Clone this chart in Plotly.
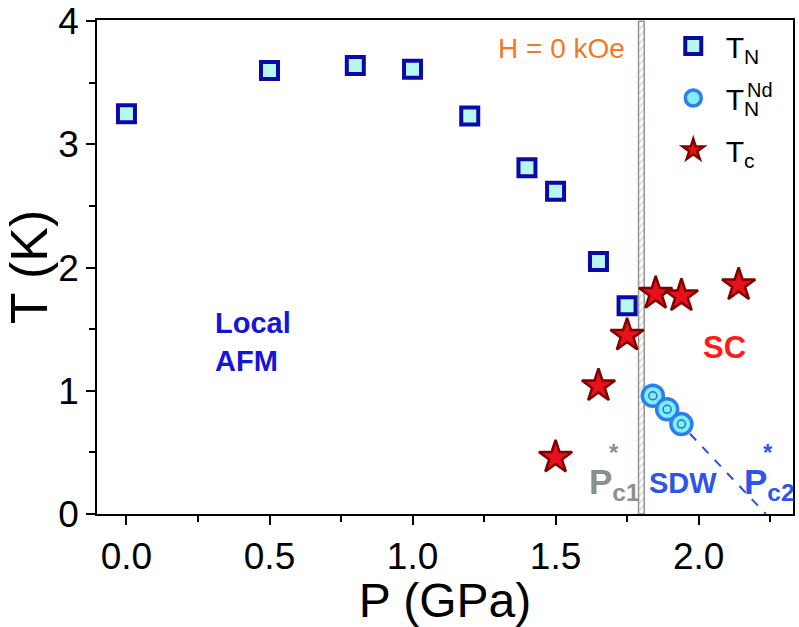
import plotly.graph_objects as go

# ---- data ----
tn_P = [0.0, 0.5, 0.8, 1.0, 1.2, 1.4, 1.5, 1.65, 1.75]
tn_T = [3.25, 3.60, 3.64, 3.61, 3.23, 2.81, 2.62, 2.05, 1.69]

tnd_P = [1.84, 1.89, 1.94]
tnd_T = [0.96, 0.85, 0.73]

tc_P = [1.5, 1.65, 1.75, 1.85, 1.94, 2.14]
tc_T = [0.46, 1.04, 1.45, 1.79, 1.77, 1.86]

sdw_line_P = [1.84, 2.235]
sdw_line_T = [0.97, 0.0]

pc1_P = [1.80]
pc1_width = [0.02]
band_top = [4.0]

x_ticks = [0.0, 0.5, 1.0, 1.5, 2.0]
x_ticklabels = ["0.0", "0.5", "1.0", "1.5", "2.0"]
y_ticks = [0, 1, 2, 3, 4]
y_ticklabels = ["0", "1", "2", "3", "4"]

FONT = "Liberation Sans"
BLUE_TXT = "#2f55e8"

fig = go.Figure()

# hatched P*c1 band
fig.add_trace(go.Bar(
    x=pc1_P, y=band_top, width=pc1_width, base=0,
    marker=dict(color="white", line=dict(color="#8f9790", width=1.5),
                pattern=dict(shape="/", fgcolor="#b3bbae", bgcolor="white",
                             size=5, solidity=0.35)),
    showlegend=False, hoverinfo="skip"))

# dashed SDW line
fig.add_trace(go.Scatter(
    x=sdw_line_P, y=sdw_line_T, mode="lines",
    line=dict(color="#2a4fd0", width=2, dash="dash"),
    showlegend=False, hoverinfo="skip"))

fig.add_trace(go.Scatter(
    x=tn_P, y=tn_T, mode="markers", name="T<sub>N</sub>", legendgroup="a",
    marker=dict(symbol="square", size=17, color="#b8f7ee",
                line=dict(color="#0a0aa8", width=4))))

fig.add_trace(go.Scatter(
    x=tnd_P, y=tnd_T, mode="markers", name="T<sub>N</sub>", legendgroup="b",
    marker=dict(symbol="circle", size=21, color="#80eef5",
                line=dict(color="#2d7ff0", width=3.5))))
fig.add_trace(go.Scatter(
    x=tnd_P, y=tnd_T, mode="markers", showlegend=False, hoverinfo="skip",
    marker=dict(symbol="circle-open", size=8, color="#2a6ee0",
                line=dict(color="#2a6ee0", width=1.5))))

fig.add_trace(go.Scatter(
    x=tc_P, y=tc_T, mode="markers", name="T<sub>c</sub>", legendgroup="c",
    marker=dict(symbol="star", size=25, color="#e8101a",
                line=dict(color="#800000", width=2.5))))

ann = []
def A(x, y, text, size, color, bold=False, ref="x", **kw):
    t = f"<b>{text}</b>" if bold else text
    d = dict(x=x, y=y, xref=ref, yref=ref.replace("x", "y"), text=t, showarrow=False,
             font=dict(family=FONT, size=size, color=color))
    d.update(kw)
    ann.append(d)

A(1.519, 3.78, "H = 0 kOe", 28, "#f07a2a")
A(0.302, 1.395, "Local<br>AFM", 29, "#1515d8", bold=True, xanchor="left", align="left")
A(2.09, 1.35, "SC", 31, "#ff1a1a", bold=True)
A(1.944, 0.25, "SDW", 29, BLUE_TXT, bold=True)
A(1.610, 0.24, "P<sub>c1</sub>", 35, "#8a908f", bold=True, xanchor="left")
A(1.703, 0.50, "*", 24, "#8a908f", bold=True)
A(2.150, 0.24, "P<sub>c2</sub>", 35, BLUE_TXT, bold=True, xanchor="left")
A(2.243, 0.50, "*", 24, BLUE_TXT, bold=True)
# superscript of the second legend entry (T_N^Nd)
A(0.931, 0.858, "Nd", 20, "black", ref="paper", xanchor="left", yanchor="middle")

fig.update_layout(
    width=799, height=627,
    margin=dict(l=97, r=6, t=20, b=113, autoexpand=False),
    paper_bgcolor="white", plot_bgcolor="white",
    font=dict(family=FONT, color="black"),
    annotations=ann,
    barmode="overlay",
    legend=dict(x=0.81, y=1.0, xanchor="left", yanchor="top",
                font=dict(family=FONT, size=30, color="black"),
                bgcolor="rgba(0,0,0,0)", itemwidth=55, tracegroupgap=10,
                itemsizing="trace"),
    xaxis=dict(range=[-0.103, 2.33], tickvals=x_ticks, ticktext=x_ticklabels,
               ticks="outside", ticklen=9, tickwidth=1.5, tickcolor="black",
               showline=True, linecolor="black", linewidth=1.5, mirror=True,
               showgrid=False, zeroline=False, automargin=False,
               minor=dict(dtick=0.25, tick0=0, ticks="outside", ticklen=6, tickwidth=1.5, tickcolor="black"),
               tickfont=dict(family=FONT, size=37),
               title=dict(text="P (GPa)", font=dict(family=FONT, size=48), standoff=4)),
    yaxis=dict(range=[0, 4.01], tickvals=y_ticks, ticktext=y_ticklabels,
               ticks="outside", ticklen=9, tickwidth=1.5, tickcolor="black",
               showline=True, linecolor="black", linewidth=1.5, mirror=True,
               showgrid=False, zeroline=False, automargin=False,
               minor=dict(dtick=0.5, tick0=0, ticks="outside", ticklen=6, tickwidth=1.5, tickcolor="black"),
               tickfont=dict(family=FONT, size=37),
               title=dict(text="T (K)", font=dict(family=FONT, size=52), standoff=4)),
)

fig.write_html("out.html", config={"displayModeBar": False},
               post_script="document.body.style.margin='0';document.body.style.padding='0';")
